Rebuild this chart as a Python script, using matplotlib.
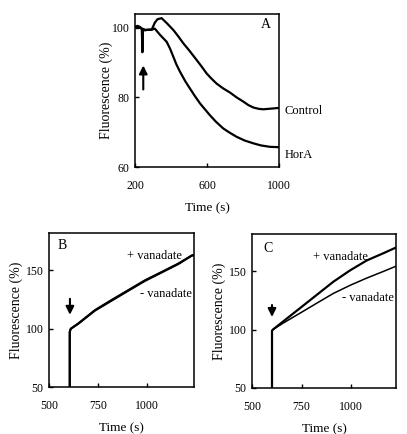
import matplotlib
matplotlib.use("Agg")
import matplotlib.pyplot as plt

plt.rcParams['font.family'] = ['Liberation Serif', 'DejaVu Serif']

# Panel A data
a_time_control = [200, 215, 230, 238, 241, 244, 255, 270, 293, 310, 325, 348, 376, 413, 440,
                  468, 500, 542, 570, 598, 625, 653, 690, 728, 765, 802, 830, 858, 890,
                  913, 960, 1000]
a_control = [100.3, 100.6, 100.2, 99.5, 93.0, 99.5, 99.3, 99.5, 99.5, 101.5, 102.5, 102.8,
             101.4, 99.4, 97.6, 95.6, 93.6, 90.8, 88.9, 86.9, 85.4, 84.0, 82.6, 81.4, 80.0,
             78.8, 77.8, 77.1, 76.7, 76.6, 76.8, 77.0]
a_time_hora = [200, 230, 260, 293, 310, 339, 376, 395, 413, 430, 450, 480, 505, 530, 561,
               590, 616, 650, 690, 725, 764, 810, 858, 900, 950, 1000]
a_hora = [100.3, 100.0, 99.4, 99.5, 99.8, 98.0, 96.0, 94.0, 91.7, 89.5, 87.4, 84.6, 82.6,
          80.6, 78.3, 76.5, 74.9, 73.0, 71.1, 69.9, 68.7, 67.6, 66.8, 66.2, 65.8, 65.7]

# Panel B data
b_time = [606, 606, 609, 612, 650, 735, 820, 905, 991, 1076, 1161, 1229, 1240]
b_plus = [50, 97, 99, 100, 104.5, 115.9, 124.6, 133.0, 141.5, 148.6, 155.8, 162.7, 163.2]
b_minus = [50, 97, 99, 100, 104.3, 115.5, 124.0, 132.5, 141.0, 148.2, 155.4, 162.5, 163.0]

# Panel C data
c_time = [601, 601, 605, 657, 742, 826, 910, 995, 1079, 1163, 1227]
c_plus = [50, 99, 100, 107, 118.4, 129.7, 141, 150.8, 159.3, 165.5, 170.4]
c_minus = [50, 99, 100, 105.6, 114.1, 122.6, 131, 138, 144.2, 149.9, 154.4]

fig = plt.figure(figsize=(4.07, 4.34), dpi=100)

def style(ax):
    for s in ax.spines.values():
        s.set_linewidth(1.1)
    ax.tick_params(direction='in', length=3, width=1.0, labelsize=8.5, pad=4)
    ax.tick_params(axis='x', pad=9.5)

arrow_kw = dict(arrowstyle='-|>', color='black', lw=1.5, mutation_scale=12)

# Panel A
axA = fig.add_axes([135/407, 1-167/434, 144/407, 153/434])
axA.plot(a_time_control, a_control, color='black', lw=1.6)
axA.plot(a_time_hora, a_hora, color='black', lw=1.6)
axA.set_xlim(200, 1000)
axA.set_ylim(60, 104)
axA.set_xticks([200, 600, 1000])
axA.set_yticks([60, 80, 100])
style(axA)
axA.set_xlabel('Time (s)', fontsize=9.5, labelpad=7)
axA.set_ylabel('Fluorescence (%)', fontsize=10, labelpad=-1)
axA.text(926, 101, 'A', fontsize=10, ha='center', va='center')
axA.text(1028, 76.2, 'Control', fontsize=9, ha='left', va='center', clip_on=False)
axA.text(1030, 63.5, 'HorA', fontsize=9, ha='left', va='center', clip_on=False)
axA.annotate('', xy=(246, 90), xytext=(246, 81.5), arrowprops=arrow_kw)

# Panel B
axB = fig.add_axes([49/407, 1-387/434, 145/407, 154/434])
axB.plot(b_time, b_plus, color='black', lw=1.5)
axB.plot(b_time, b_minus, color='black', lw=1.5)
axB.set_xlim(500, 1241)
axB.set_ylim(50, 182)
axB.set_xticks([500, 750, 1000])
axB.set_yticks([50, 100, 150])
style(axB)
axB.set_xlabel('Time (s)', fontsize=9.5, labelpad=7)
axB.set_ylabel('Fluorescence (%)', fontsize=10, labelpad=1.5)
axB.text(565, 171, 'B', fontsize=10, ha='center', va='center')
axB.text(897, 162.3, '+ vanadate', fontsize=9, ha='left', va='center')
axB.text(965, 130, '- vanadate', fontsize=9, ha='left', va='center')
axB.annotate('', xy=(607, 109.5), xytext=(607, 128), arrowprops=arrow_kw)

# Panel C
axC = fig.add_axes([252/407, 1-388/434, 144/407, 154/434])
axC.plot(c_time, c_plus, color='black', lw=1.6)
axC.plot(c_time, c_minus, color='black', lw=1.1)
axC.set_xlim(500, 1227)
axC.set_ylim(50, 182)
axC.set_xticks([500, 750, 1000])
axC.set_yticks([50, 100, 150])
style(axC)
axC.set_xlabel('Time (s)', fontsize=9.5, labelpad=7)
axC.set_ylabel('Fluorescence (%)', fontsize=10, labelpad=1.5)
axC.text(582, 169.7, 'C', fontsize=10, ha='center', va='center')
axC.text(808, 162, '+ vanadate', fontsize=9, ha='left', va='center')
axC.text(953, 127, '- vanadate', fontsize=9, ha='left', va='center')
axC.annotate('', xy=(601, 108.5), xytext=(601, 123.5), arrowprops=arrow_kw)

fig.savefig('out.png', dpi=100)
